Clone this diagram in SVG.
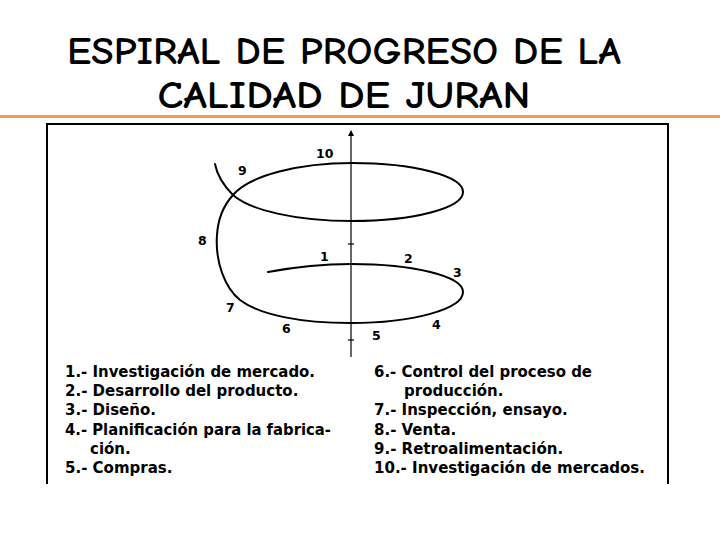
<svg xmlns="http://www.w3.org/2000/svg" width="720" height="540" viewBox="0 0 720 540">
<style>
.title{font-family:"Comic Neue","Liberation Sans",sans-serif;font-size:38px;font-weight:bold;fill:#000;text-anchor:middle}
.num{font-family:"DejaVu Sans",Verdana,sans-serif;font-size:12.5px;font-weight:bold;fill:#000}
.item{font-family:"DejaVu Sans",Verdana,sans-serif;font-size:15px;font-weight:bold;fill:#000}
.curve{fill:none;stroke:#000;stroke-width:2;stroke-linecap:round}
.axis{fill:none;stroke:#000;stroke-width:1.2}
</style>
<defs>
<marker id="arr" markerWidth="6" markerHeight="6" refX="5" refY="3" orient="auto" markerUnits="userSpaceOnUse">
<path d="M0,0 L6,3 L0,6 z" fill="#000"/>
</marker>
</defs>
<rect width="720" height="540" fill="#fff"/>
<g id="title">
<text class="title" x="344" y="64" textLength="554" lengthAdjust="spacingAndGlyphs">ESPIRAL DE PROGRESO DE LA</text>
<text class="title" x="344" y="108" textLength="373" lengthAdjust="spacingAndGlyphs">CALIDAD DE JURAN</text>
</g>
<line x1="0" y1="116.5" x2="720" y2="116.5" stroke="#E9A04E" stroke-width="3"/>
<path d="M47,484 V124 H668 V484" fill="none" stroke="#000" stroke-width="2"/>
<g id="connectors">
<line class="axis" x1="351" y1="357" x2="351" y2="131" marker-end="url(#arr)"/>
<line class="axis" x1="348" y1="244" x2="354" y2="244"/>
<line class="axis" x1="348" y1="340" x2="354" y2="340"/>
<path id="spiral" class="curve" d="M268,272 C295,267 325,264 351,264 C413,264 463,276 463,292 C463,309 413,323 351,323 C300,323 260,315 240,300 C225,288 215,262 217,235 C218,218 224,205 233,195 C250,175 300,163 352,163 C414,163 463,176 463,192 C463,208 414,221 352,221 C295,221 250,210 233,195 C224,186 217,175 215,164"/>
</g>
<g id="labels">
<text class="num" x="316" y="158">10</text>
<text class="num" x="238" y="175">9</text>
<text class="num" x="198" y="245">8</text>
<text class="num" x="320" y="261">1</text>
<text class="num" x="404" y="263">2</text>
<text class="num" x="453" y="277">3</text>
<text class="num" x="432" y="329">4</text>
<text class="num" x="372" y="340">5</text>
<text class="num" x="282" y="333">6</text>
<text class="num" x="226" y="312">7</text>
</g>
<g id="list-left">
<text class="item" x="65" y="377" textLength="250" lengthAdjust="spacingAndGlyphs">1.- Investigación de mercado.</text>
<text class="item" x="65" y="396">2.- Desarrollo del producto.</text>
<text class="item" x="65" y="415">3.- Diseño.</text>
<text class="item" x="65" y="435" textLength="266" lengthAdjust="spacingAndGlyphs">4.- Planificación para la fabrica-</text>
<text class="item" x="90" y="454">ción.</text>
<text class="item" x="65" y="473">5.- Compras.</text>
</g>
<g id="list-right">
<text class="item" x="374" y="377" textLength="218" lengthAdjust="spacingAndGlyphs">6.- Control del proceso de</text>
<text class="item" x="404" y="396">producción.</text>
<text class="item" x="374" y="415">7.- Inspección, ensayo.</text>
<text class="item" x="374" y="435">8.- Venta.</text>
<text class="item" x="374" y="454">9.- Retroalimentación.</text>
<text class="item" x="374" y="473" textLength="271" lengthAdjust="spacingAndGlyphs">10.- Investigación de mercados.</text>
</g>
</svg>
